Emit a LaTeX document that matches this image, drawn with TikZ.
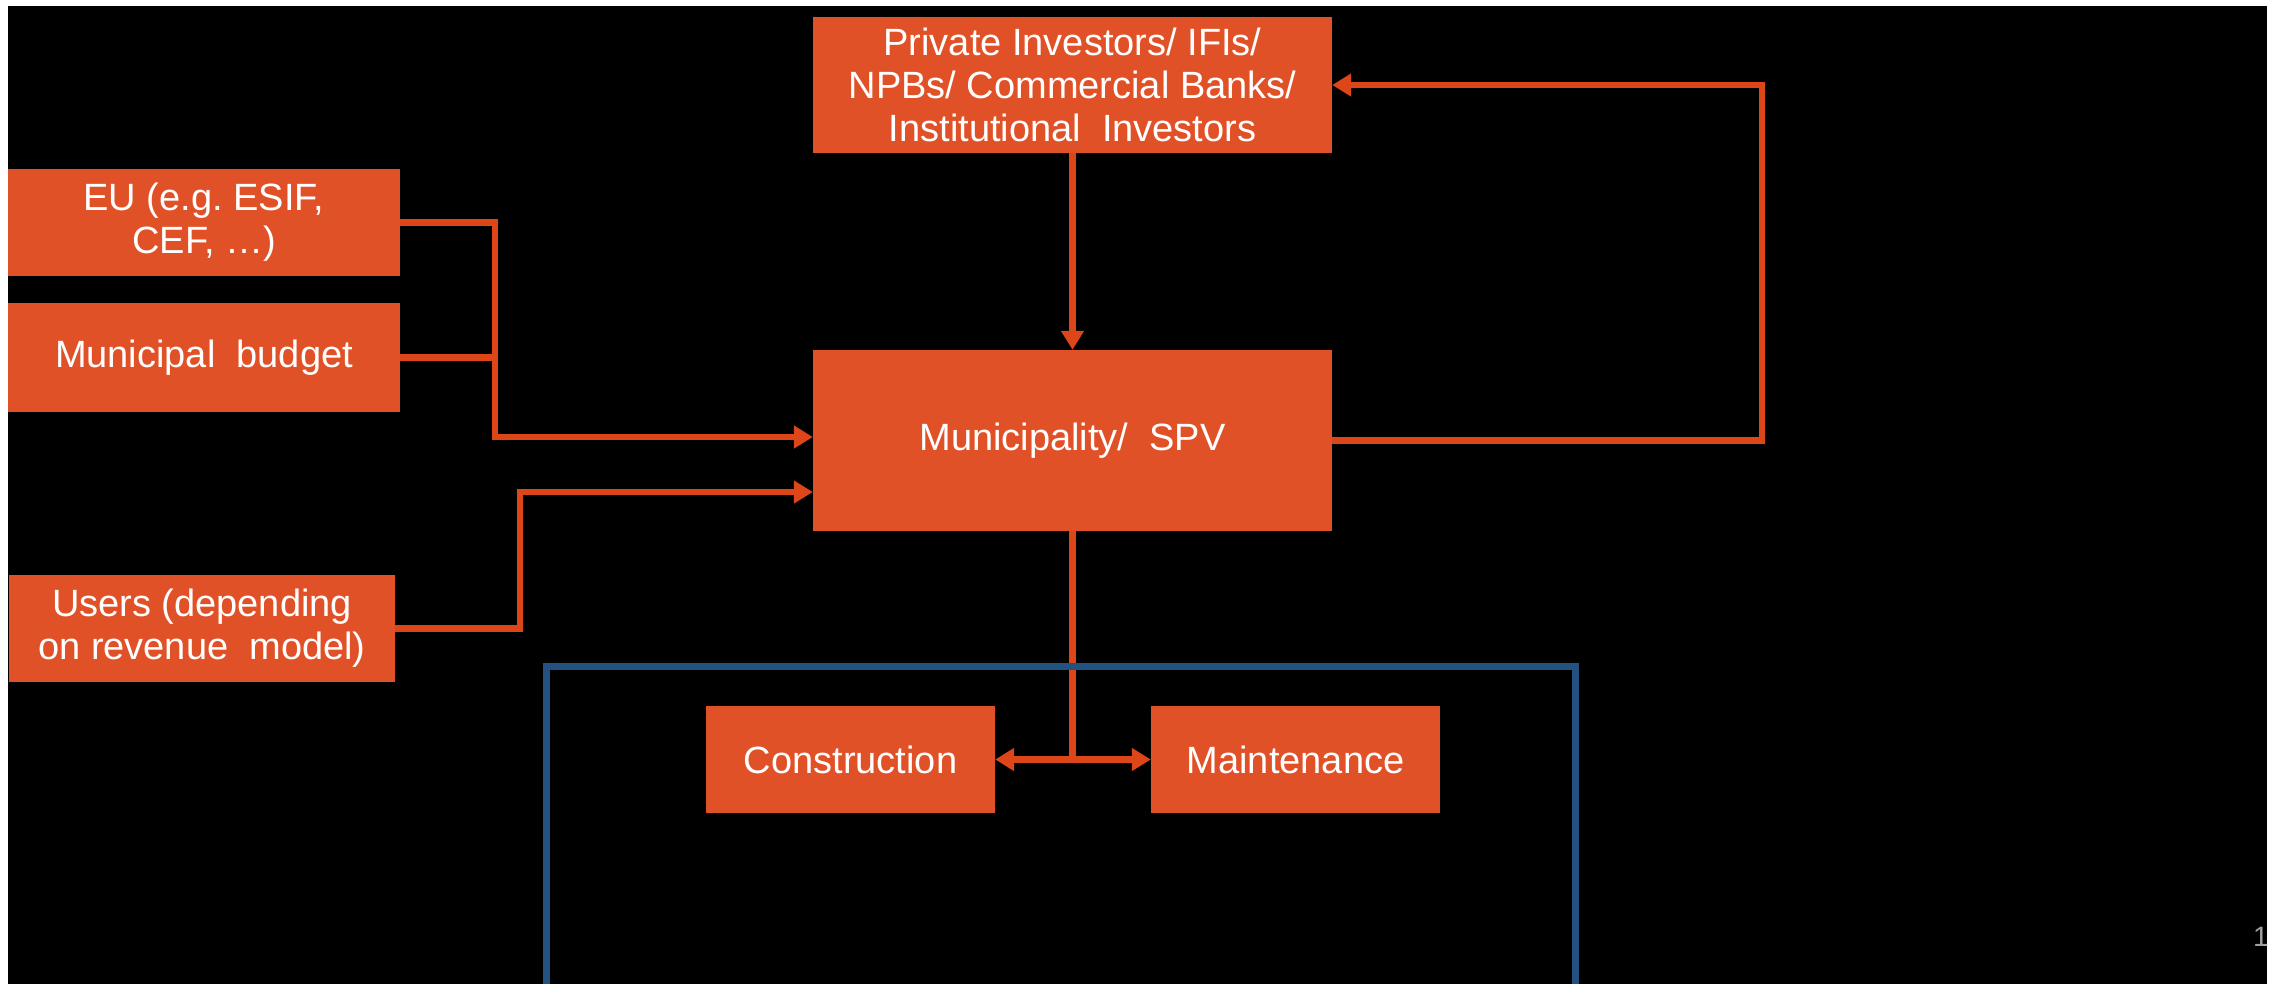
\documentclass[tikz,border=0pt]{standalone}
\usepackage{fontspec}
\setmainfont{Liberation Sans}
\usetikzlibrary{arrows.meta}
\frenchspacing
\definecolor{boxorange}{RGB}{225,81,39}
\definecolor{lineorange}{RGB}{221,70,24}
\definecolor{frameblue}{RGB}{36,82,128}
\definecolor{pagegray}{RGB}{160,160,160}
\tikzset{
  fbox/.style={rectangle, fill=boxorange, draw=none, inner sep=0pt, text=white,
    align=center, font=\fontsize{38}{43}\selectfont},
  link/.style={draw=lineorange, line width=6.5pt},
  arr/.style={link, -{Triangle[width=22pt,length=19pt]}},
  frame/.style={draw=frameblue, line width=7pt}
}
\begin{document}
\begin{tikzpicture}[x=1pt,y=-1pt]
\useasboundingbox (0,0) rectangle (2272,983);
\fill[white] (0,0) rectangle (2272,983);
\fill[black] (8,6) rectangle (2267,995);

% nodes
\node[fbox, minimum width=519pt, minimum height=136pt] (priv) at (1072.5,85)
  {Private Investors/ IFIs/\\NPBs/ Commercial Banks/\\Institutional\ \ Investors};
\node[fbox, minimum width=392pt, minimum height=107pt] (eu) at (204,222.5)
  {EU (e.g.\ ESIF,\\CEF, \dots)};
\node[fbox, minimum width=392pt, minimum height=109pt] (mb) at (204,357.5)
  {Municipal\ \ budget};
\node[fbox, minimum width=519pt, minimum height=181pt] (spv) at (1072.5,440.5)
  {Municipality/\ \ SPV};
\node[fbox, minimum width=386pt, minimum height=107pt] (users) at (202,628.5)
  {Users (depending\\on revenue\ \ model)};
\node[fbox, minimum width=289pt, minimum height=107pt] (cons) at (850.5,759.5)
  {Construction};
\node[fbox, minimum width=289pt, minimum height=107pt] (maint) at (1295.5,759.5)
  {Maintenance};

% junction coordinates
\coordinate (j1) at (495,437);
\coordinate (j2) at (520,492);
\coordinate (j3) at (1762,85);
\coordinate (j4) at (spv.south |- cons.east);

% connectors
\draw[link] (mb.east) -- (mb.east -| j1);
\draw[arr] (eu.east) -| (j1) -- (spv.west |- j1);
\draw[arr] (users.east) -| (j2) -- (spv.west |- j2);
\draw[arr] (priv.south) -- (spv.north);
\draw[arr] (spv.east) -| (j3) -- (priv.east);
\draw[link] (spv.south) -- (j4);
\draw[arr] (j4) -- (cons.east);
\draw[arr] (j4) -- (maint.west);

% blue frame (open at the bottom)
\coordinate (f1) at (546,995);
\coordinate (f2) at (1575,666);
\coordinate (f3) at (1575,995);
\draw[frame] (f1) |- (f2) -- (f3);

% page number, clipped at the black edge
\begin{scope}
\clip (8,6) rectangle (2267,995);
\node[anchor=west, inner sep=0pt, text=pagegray, font=\fontsize{28}{30}\selectfont] (pg) at (2253,937) {14};
\end{scope}
\end{tikzpicture}
\end{document}
